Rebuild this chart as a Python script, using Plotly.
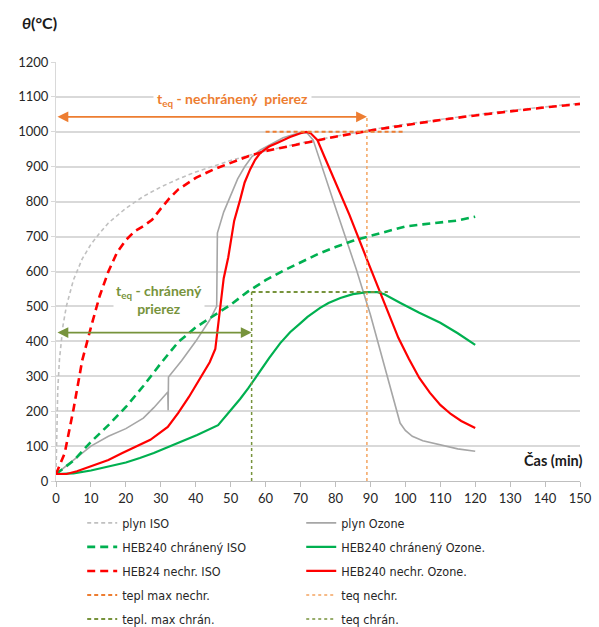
import plotly.graph_objects as go

# ---- data (time in minutes, temperature in °C) ----
t_iso = [0, 0.5, 1, 2, 3, 5, 7.5, 10, 12.5, 15, 20, 25, 30, 35, 40, 45, 50, 55, 60,
         70, 80, 90, 100, 110, 120, 130, 140, 150]
plyn_iso = [20, 261, 349, 445, 502, 576, 636, 678, 710, 739, 781, 815, 842, 865, 885, 902,
            918, 932, 945, 968, 988, 1006, 1022, 1036, 1049, 1061, 1072, 1082]

t_nechr_iso = [0, 2.5, 5, 7.5, 10, 12.5, 15, 17.5, 20, 22.5, 25, 27.5, 30, 32.5, 35, 40,
               45, 50, 55, 60, 70, 80, 90, 100, 110, 120, 130, 140, 150]
nechr_iso = [20, 80, 205, 345, 440, 530, 600, 655, 690, 715, 730, 748, 780, 810, 835, 868,
             892, 912, 930, 945, 966, 986, 1004, 1020, 1034, 1047, 1059, 1070, 1080]

t_chran_iso = [0, 5, 10, 15, 20, 25, 30, 35, 40, 45, 50, 55, 60, 65, 70, 75, 80, 85, 90,
               95, 100, 105, 110, 115, 120]
chran_iso = [20, 58, 112, 160, 212, 272, 337, 398, 440, 472, 505, 543, 575, 602, 625, 650,
             670, 688, 702, 716, 729, 735, 740, 746, 757]

t_plyn_oz = [0, 5, 10, 15, 20, 25, 28, 32, 32.1, 32.2, 36, 40, 44, 46, 46.2, 48, 50, 52,
             54, 56, 58.5, 62, 65, 68, 70.7, 72, 73.6, 80, 86, 90, 94, 98.5, 100, 102, 105,
             110, 115, 120]
plyn_oz = [20, 60, 100, 128, 150, 180, 210, 255, 203, 298, 345, 400, 461, 500, 710, 770,
           818, 865, 900, 928, 948, 968, 983, 992, 999, 995, 977, 783, 605, 476, 330, 166,
           145, 128, 115, 103, 92, 85]

t_chran_oz = [0, 5, 10, 14.6, 20, 24, 28, 33.5, 37, 40.4, 46.4, 49, 52.7, 55, 58.5, 61,
              64.2, 67, 70, 72, 75.6, 78, 81.4, 85, 89, 92, 94, 96, 98.6, 104, 110, 115, 120]
chran_oz = [20, 22, 30, 40, 53, 66, 80, 103, 117, 132, 160, 190, 235, 265, 318, 352,
            395, 426, 452, 470, 496, 510, 524, 535, 541, 541, 535, 525, 510, 482, 453, 423, 390]

t_nechr_oz = [0, 3, 6, 10, 15, 19, 23, 27, 32, 35, 38, 41, 44, 45.6, 47, 48, 49.3, 50, 51,
              52.7, 54, 55.6, 57, 58.5, 61, 63.3, 67, 70, 71.6, 73, 74.8, 77, 80, 84, 89,
              93, 98, 101, 104, 107, 110, 113, 116, 120]
nechr_oz = [20, 20, 28, 42, 60, 80, 98, 118, 155, 195, 240, 290, 340, 378, 490, 580, 640,
            685, 745, 805, 855, 893, 920, 940, 958, 968, 985, 996, 1000, 995, 977, 925, 855,
            762, 635, 535, 410, 350, 295, 253, 218, 192, 172, 152]

# equivalent-time construction
tmax_nechr = 1000          # peak temperature, unprotected section
tmax_chran = 541           # peak temperature, protected section
teq_nechr = 89             # equivalent time, unprotected section
teq_chran = 56             # equivalent time, protected section
tmax_nechr_span = [60, 100]
tmax_chran_span = [teq_chran, 95]
arrow_level_nechr = 1043
arrow_level_chran = 425

x_ticks = list(range(0, 151, 10))
y_ticks = list(range(0, 1201, 100))

GRAY_LIGHT = "#C0C0C0"
GRAY = "#A6A6A6"
GREEN = "#00B050"
RED = "#FF0000"
ORANGE = "#ED7D31"
ORANGE_LIGHT = "#F4A460"
OLIVE = "#77933C"
FONT = "Lato, 'Open Sans', sans-serif"
LEGEND_FONT = "'DejaVu Sans Condensed', Roboto, Lato, sans-serif"

fig = go.Figure()


def line(x, y, name, color, width, dash, legend):
    fig.add_trace(go.Scatter(
        x=x, y=y, name=name, mode="lines", legend=legend, legendgroup=name,
        line=dict(color=color, width=width, dash=dash),
        hoverinfo="skip"))


line(t_iso, plyn_iso, "plyn ISO", GRAY_LIGHT, 1.6, "4px,3px", "legend")
line(t_plyn_oz, plyn_oz, "plyn Ozone", GRAY, 1.6, "solid", "legend2")
line(t_chran_iso, chran_iso, "HEB240 chránený ISO", GREEN, 2.6, "8px,5px", "legend")
line(t_chran_oz, chran_oz, "HEB240 chránený Ozone.", GREEN, 2.2, "solid", "legend2")
line(t_nechr_iso, nechr_iso, "HEB24 nechr. ISO", RED, 2.6, "8px,5px", "legend")
line(t_nechr_oz, nechr_oz, "HEB240 nechr. Ozone.", RED, 2.2, "solid", "legend2")
line(tmax_nechr_span, [tmax_nechr, tmax_nechr], "tepl max nechr.", ORANGE, 2, "4px,3px", "legend")
line([teq_nechr, teq_nechr], [0, arrow_level_nechr], "teq nechr.", ORANGE_LIGHT, 1.5, "dot", "legend2")
line(tmax_chran_span, [tmax_chran, tmax_chran], "tepl. max chrán.", OLIVE, 2, "4px,3px", "legend")
line([teq_chran, teq_chran], [0, tmax_chran], "teq chrán.", OLIVE, 1.5, "dot", "legend2")

# double-headed arrows marking the equivalent times
for level, tend, color in [(arrow_level_nechr, teq_nechr, ORANGE),
                           (arrow_level_chran, teq_chran, OLIVE)]:
    fig.add_annotation(x=tend, y=level, ax=0, ay=level, xref="x", yref="y",
                       axref="x", ayref="y", text="", showarrow=True,
                       arrowside="end+start", arrowhead=2, arrowsize=1.2,
                       arrowwidth=1.8, arrowcolor=color)

fig.add_annotation(x=50.5, y=1093, xref="x", yref="y", showarrow=False,
                   text="<b>t<sub>eq</sub> - nechránený  prierez</b>",
                   font=dict(family=FONT, size=14, color=ORANGE),
                   bgcolor="white", borderpad=3)
fig.add_annotation(x=29.5, y=520, xref="x", yref="y", showarrow=False,
                   text="<b>t<sub>eq</sub> - chránený<br>prierez</b>",
                   font=dict(family=FONT, size=14, color=OLIVE),
                   bgcolor="white", borderpad=2)

fig.add_annotation(x=-0.032, y=1.095, xref="paper", yref="paper", showarrow=False,
                   xanchor="center", yanchor="middle", text="<b><i>θ</i>(°C)</b>",
                   font=dict(family=FONT, size=16, color="#1a1a1a"))
fig.add_annotation(x=1.01, y=0.05, xref="paper", yref="paper", showarrow=False,
                   xanchor="right", yanchor="middle", text="<b>Čas (min)</b>",
                   font=dict(family=FONT, size=14.5, color="#1a1a1a"))

legend_style = dict(font=dict(family=LEGEND_FONT, size=12.5, color="#262626"),
                    bgcolor="rgba(0,0,0,0)", traceorder="grouped",
                    tracegroupgap=4.8, yanchor="top", xanchor="left",
                    itemwidth=30)

fig.update_layout(
    width=599, height=627,
    margin=dict(l=56, r=19, t=62, b=146, autoexpand=False),
    paper_bgcolor="white", plot_bgcolor="white",
    font=dict(family=FONT, size=13, color="#262626"),
    showlegend=True,
    legend=dict(x=0.05, y=-0.065, **legend_style),
    legend2=dict(x=0.468, y=-0.065, **legend_style),
    xaxis=dict(range=[0, 150], tickvals=x_ticks, showgrid=False, zeroline=False,
               showline=True, linecolor="#BFBFBF", linewidth=1.2,
               ticks="outside", ticklen=5, tickcolor="#BFBFBF",
               tickfont=dict(family=FONT, size=13, color="#262626")),
    yaxis=dict(range=[0, 1200], tickvals=y_ticks, showgrid=True,
               gridcolor="#D9D9D9", gridwidth=1.5, zeroline=False,
               showline=True, linecolor="#D9D9D9", linewidth=1.2,
               ticks="outside", ticklen=4, tickcolor="#D9D9D9",
               tickfont=dict(family=FONT, size=13, color="#262626")),
)

fig.write_html("out.html")
